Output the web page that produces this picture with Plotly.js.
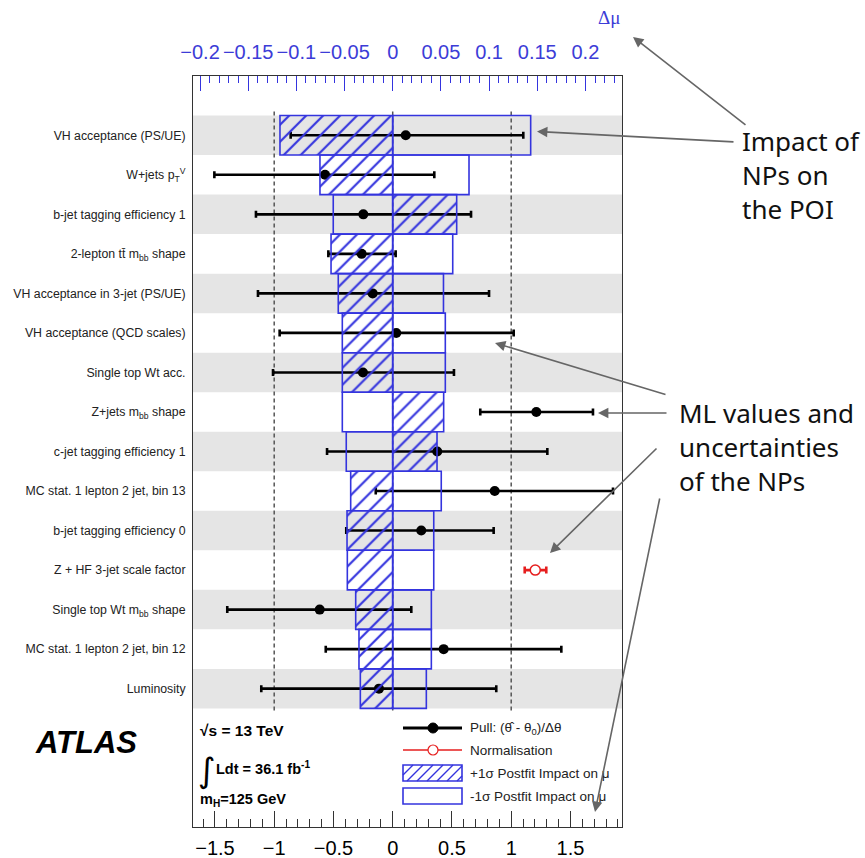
<!DOCTYPE html>
<html><head><meta charset="utf-8">
<script src="https://cdn.plot.ly/plotly-3.0.1.min.js"></script>
<style>html,body{margin:0;padding:0;background:#fff}</style>
</head><body><div id="chart" style="width:865px;height:858px"></div>
<script>
// ---------------- data ----------------
const categories = [
  "VH acceptance (PS/UE)",
  "W+jets p<sub>T</sub><sup>V</sup>",
  "b-jet tagging efficiency 1",
  "2-lepton tt\u0304 m<sub>bb</sub> shape",
  "VH acceptance in 3-jet (PS/UE)",
  "VH acceptance (QCD scales)",
  "Single top Wt acc.",
  "Z+jets m<sub>bb</sub> shape",
  "c-jet tagging efficiency 1",
  "MC stat. 1 lepton 2 jet, bin 13",
  "b-jet tagging efficiency 0",
  "Z + HF 3-jet scale factor",
  "Single top Wt m<sub>bb</sub> shape",
  "MC stat. 1 lepton 2 jet, bin 12",
  "Luminosity"
];
// +1 sigma postfit impact on mu (hatched boxes)
const impactUp = [-0.117, -0.0755, 0.0664, -0.0640, -0.0565, -0.0523, -0.0523, 0.0529, 0.0460, -0.0436, -0.0474, -0.0471, -0.0384, -0.0350, -0.0336];
// -1 sigma postfit impact on mu (open boxes)
const impactDown = [0.1432, 0.0792, -0.0617, 0.0623, 0.0527, 0.0546, 0.0546, -0.0523, -0.0482, 0.0504, 0.0426, 0.0426, 0.0401, 0.0401, 0.0349];
// pulls (theta_hat - theta0)/dtheta
const pullValue   = [0.110, -0.571, -0.248, -0.262, -0.169, 0.030, -0.251, 1.212, 0.376, 0.861, 0.241, null, -0.616, 0.430, -0.116];
const pullErrLow  = [0.971, 0.934, 0.906, 0.281, 0.968, 0.984, 0.759, 0.473, 0.930, 1.004, 0.633, null, 0.780, 0.995, 0.993];
const pullErrHigh = [0.992, 0.922, 0.909, 0.287, 0.982, 0.991, 0.768, 0.478, 0.929, 0.998, 0.611, null, 0.773, 0.993, 0.990];
// normalisation factor
const normCategory = ["Z + HF 3-jet scale factor"];
const normValue   = [1.203];
const normErrLow  = [0.089];
const normErrHigh = [0.093];
// reference lines on pull axis
const pullRefLines = [-1, 0, 1];

// ---------------- geometry / style ----------------
const W = 865, H = 858;
const L = 193, R = 622, T = 76, B = 827;
const PX = p => (p - L) / (R - L);
const PY = p => (B - p) / (B - T);
const BLUE = "rgb(52,52,222)";
const BLUE_TXT = "rgb(60,60,215)";
const FONT = "Liberation Sans, Arial, sans-serif";

const rowPos = categories.map((_, i) => i);
const normPos = normCategory.map(c => categories.indexOf(c));

const traces = [
  {
    type: "bar", orientation: "h", xaxis: "x2", yaxis: "y",
    x: impactDown, y: rowPos, width: 1,
    marker: { color: "rgba(0,0,0,0)", line: { color: BLUE, width: 1.6 } },
    hoverinfo: "skip"
  },
  {
    type: "bar", orientation: "h", xaxis: "x2", yaxis: "y",
    x: impactUp, y: rowPos, width: 1,
    marker: {
      color: "rgba(0,0,0,0)", line: { color: BLUE, width: 1.6 },
      pattern: { shape: "/", fgcolor: BLUE, bgcolor: "rgba(0,0,0,0)", size: 12, solidity: 0.18, fillmode: "replace" }
    },
    hoverinfo: "skip"
  },
  {
    type: "scatter", mode: "markers", xaxis: "x", yaxis: "y",
    x: pullValue, y: rowPos,
    marker: { color: "black", size: 10, symbol: "circle" },
    error_x: { type: "data", symmetric: false, array: pullErrHigh, arrayminus: pullErrLow, color: "black", thickness: 2.6, width: 3.5 },
    hoverinfo: "skip"
  },
  {
    type: "scatter", mode: "markers", xaxis: "x", yaxis: "y",
    x: normValue, y: normPos,
    marker: { color: "white", size: 10, symbol: "circle", line: { color: "rgb(230,30,30)", width: 1.5 } },
    error_x: { type: "data", symmetric: false, array: normErrHigh, arrayminus: normErrLow, color: "rgb(230,30,30)", thickness: 2.6, width: 3.5 },
    hoverinfo: "skip"
  }
];

// ---------------- shapes ----------------
const shapes = [];
rowPos.forEach(i => {
  if (i % 2 === 0) {
    shapes.push({ type: "rect", xref: "paper", yref: "y", x0: 0, x1: 1, y0: i - 0.5, y1: i + 0.5,
      fillcolor: "#e5e5e5", line: { width: 0 }, layer: "below" });
  }
});
const nRows = categories.length;
pullRefLines.forEach(v => {
  shapes.push({ type: "line", xref: "x", yref: "y", x0: v, x1: v, y0: -0.6, y1: nRows - 0.4,
    line: { color: "#555", width: 1.5, dash: "4px,3px" }, layer: "below" });
});

// legend symbols (pixel positions converted to paper)
const legX0 = 403, legX1 = 462, legXc = 433;
shapes.push({ type: "line", xref: "paper", yref: "paper", x0: PX(legX0), x1: PX(legX1), y0: PY(728), y1: PY(728), line: { color: "black", width: 3 } });
shapes.push({ type: "circle", xref: "paper", yref: "paper", xsizemode: "pixel", ysizemode: "pixel",
  xanchor: PX(legXc), yanchor: PY(728), x0: -5, x1: 5, y0: -5, y1: 5, fillcolor: "black", line: { color: "black", width: 1 } });
shapes.push({ type: "line", xref: "paper", yref: "paper", x0: PX(legX0), x1: PX(legX1), y0: PY(750), y1: PY(750), line: { color: "rgb(230,30,30)", width: 1.5 } });
shapes.push({ type: "circle", xref: "paper", yref: "paper", xsizemode: "pixel", ysizemode: "pixel",
  xanchor: PX(legXc), yanchor: PY(750), x0: -5, x1: 5, y0: -5, y1: 5, fillcolor: "white", line: { color: "rgb(230,30,30)", width: 1.2 } });
// hatched box
(function () {
  const x0 = legX0, x1 = legX1, yt = 765, yb = 781, h = yb - yt, step = 10;
  let p = "";
  for (let sx = x0 - h; sx < x1; sx += step) {
    const tmin = Math.max(0, (x0 - sx) / h), tmax = Math.min(1, (x1 - sx) / h);
    if (tmin < tmax) {
      const ax = sx + tmin * h, ay = yb - tmin * h, bx = sx + tmax * h, by = yb - tmax * h;
      p += `M${PX(ax)},${PY(ay)}L${PX(bx)},${PY(by)}`;
    }
  }
  shapes.push({ type: "path", xref: "paper", yref: "paper", path: p, line: { color: BLUE, width: 1.4 } });
  shapes.push({ type: "rect", xref: "paper", yref: "paper", x0: PX(x0), x1: PX(x1), y0: PY(yb), y1: PY(yt), line: { color: BLUE, width: 1.6 } });
})();
shapes.push({ type: "rect", xref: "paper", yref: "paper", x0: PX(legX0), x1: PX(legX1), y0: PY(804), y1: PY(788), line: { color: BLUE, width: 1.6 } });

// ---------------- annotations ----------------
const ann = [];
const txt = (text, px, py, size, opts = {}) => Object.assign({
  text, xref: "paper", yref: "paper", x: PX(px), y: PY(py), xanchor: "left", yanchor: "middle",
  showarrow: false, align: "left", font: { family: FONT, size, color: "#111" }
}, opts);

ann.push(txt("\u0394\u03bc", 622, 18, 19, { xanchor: "right", font: { family: "Liberation Serif, serif", size: 19, color: BLUE_TXT } }));
ann.push(txt("<b><i>ATLAS</i></b>", 33, 742, 31, { font: { family: FONT, size: 31, color: "black" } }));
ann.push(txt("<b>\u221as = 13 TeV</b>", 198, 730, 15.5, { font: { family: FONT, size: 15.5, color: "black" } }));
ann.push(txt("\u222b", 196, 770, 34, { font: { family: "DejaVu Sans, sans-serif", size: 34, color: "black" } }));
ann.push(txt("<b>Ldt = 36.1 fb<sup>-1</sup></b>", 214, 768, 14.5, { font: { family: FONT, size: 14.5, color: "black" } }));
ann.push(txt("<b>m<sub>H</sub>=125 GeV</b>", 198, 800, 14.5, { font: { family: FONT, size: 14.5, color: "black" } }));

const legTextX = 468;
ann.push(txt("Pull: (\u03b8\u0302 - \u03b8<sub>0</sub>)/\u0394\u03b8", legTextX, 728, 13.5, { font: { family: FONT, size: 13.5, color: "#222" } }));
ann.push(txt("Normalisation", legTextX, 750, 13.5, { font: { family: FONT, size: 13.5, color: "#222" } }));
ann.push(txt("+1\u03c3 Postfit Impact on \u03bc", legTextX, 773, 13.5, { font: { family: FONT, size: 13.5, color: "#222" } }));
ann.push(txt("-1\u03c3 Postfit Impact on \u03bc", legTextX, 796, 13.5, { font: { family: FONT, size: 13.5, color: "#222" } }));

ann.push(txt("Impact of<br>NPs on<br>the POI", 740, 175, 26, { font: { family: "Noto Sans, sans-serif", size: 26, color: "#111" } }));
ann.push(txt("ML values and<br>uncertainties<br>of the NPs", 677, 447, 26, { font: { family: "Noto Sans, sans-serif", size: 26, color: "#111" } }));

const arrows = [
  [735, 142, 537, 131.5],
  [747, 126, 633, 37],
  [667, 395, 495, 343],
  [668, 413, 598, 413],
  [658, 447, 550, 553],
  [660, 497, 595, 812]
];
arrows.forEach(([sx, sy, tx, ty]) => {
  ann.push({ text: "", xref: "paper", yref: "paper", x: PX(tx), y: PY(ty), axref: "pixel", ayref: "pixel",
    ax: sx - tx, ay: sy - ty, showarrow: true, arrowhead: 2, arrowsize: 1.3, arrowwidth: 1.6, arrowcolor: "#666", standoff: 0 });
});

// ---------------- layout ----------------
const pxPerPull = 118.5, pxPerMu = 963.5, zeroPx = 392.7;
const layout = {
  width: W, height: H,
  margin: { l: L, r: W - R, t: T, b: H - B, pad: 0 },
  paper_bgcolor: "white", plot_bgcolor: "white",
  showlegend: false, barmode: "overlay",
  xaxis: {
    range: [(L - zeroPx) / pxPerPull, (R - zeroPx) / pxPerPull],
    tick0: 0, dtick: 0.5, ticks: "inside", ticklen: 16, tickwidth: 1, tickcolor: "#333",
    minor: { ticks: "inside", dtick: 0.1, ticklen: 8, tickwidth: 1, tickcolor: "#333" },
    showgrid: false, zeroline: false, showline: true, linecolor: "#333", linewidth: 1,
    tickfont: { family: FONT, size: 20, color: "black" }, ticklabelstandoff: 3
  },
  xaxis2: {
    overlaying: "x", side: "top", anchor: "y",
    range: [(L - zeroPx) / pxPerMu, (R - zeroPx) / pxPerMu],
    tick0: 0, dtick: 0.05, ticks: "inside", ticklen: 15, tickwidth: 1, tickcolor: BLUE,
    minor: { ticks: "inside", dtick: 0.01, ticklen: 7, tickwidth: 1, tickcolor: BLUE },
    showgrid: false, zeroline: false, showline: true, linecolor: "#333", linewidth: 1,
    tickfont: { family: FONT, size: 20, color: BLUE_TXT }, ticklabelstandoff: 8
  },
  yaxis: {
    range: [nRows + 2.5, -1.5],
    tickmode: "array", tickvals: rowPos, ticktext: categories,
    ticks: "", showgrid: false, zeroline: false, showline: true, mirror: true, linecolor: "#333", linewidth: 1,
    tickfont: { family: FONT, size: 12.3, color: "#222" }, ticklabelstandoff: 4
  },
  shapes, annotations: ann
};

Plotly.newPlot("chart", traces, layout, { staticPlot: true, displayModeBar: false });
</script>
</body></html>
